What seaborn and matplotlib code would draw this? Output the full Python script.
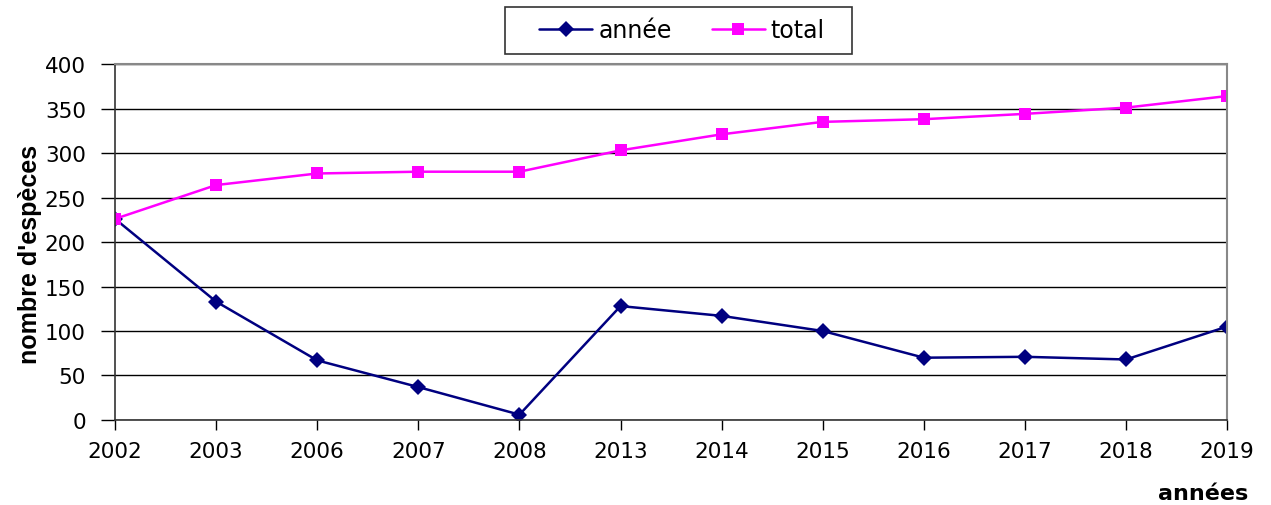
import pandas as pd
import seaborn as sns
import matplotlib.pyplot as plt
from matplotlib.patches import Rectangle

annees = ['2002', '2003', '2006', '2007', '2008', '2013', '2014', '2015', '2016', '2017', '2018', '2019']
annee = [226, 133, 67, 37, 6, 128, 117, 100, 70, 71, 68, 105]
total = [226, 264, 277, 279, 279, 303, 321, 335, 338, 344, 351, 364]

df = pd.DataFrame({
    'pos': list(range(len(annees))) * 2,
    'valeur': annee + total,
    'serie': ['année'] * len(annees) + ['total'] * len(annees),
})

sns.set_style('white')
# DejaVu est plus large qu'Arial, comme le texte étiré de l'original
plt.rcParams['font.family'] = ['DejaVu Sans']
plt.rcParams['text.color'] = 'black'
plt.rcParams['xtick.color'] = 'black'
plt.rcParams['ytick.color'] = 'black'
plt.rcParams['axes.labelcolor'] = 'black'

W, H = 1271, 506
fig = plt.figure(figsize=(W / 100, H / 100), dpi=100)
ax = fig.add_axes([0.0905, 0.168, 0.875, 0.7035])

sns.lineplot(data=df, x='pos', y='valeur', hue='serie', style='serie',
             palette={'année': '#000080', 'total': '#FF00FF'},
             markers={'année': 'D', 'total': 's'}, dashes=False,
             markersize=8, markeredgewidth=0, linewidth=1.8, ax=ax)

ax.set_xlim(0, len(annees) - 1)
ax.set_ylim(0, 400)
ax.set_yticks(range(0, 401, 50))
ax.set_xticks(range(len(annees)))
ax.set_xticklabels(annees)
ax.yaxis.grid(True, color='black', linewidth=1)
ax.set_axisbelow(True)
ax.tick_params(axis='both', labelsize=15.5, width=1, direction='out', left=True, bottom=True)
ax.tick_params(axis='y', pad=11, length=10)
ax.tick_params(axis='x', pad=8, length=7)
for side in ['left', 'bottom']:
    ax.spines[side].set_color('#333333')
    ax.spines[side].set_linewidth(1.2)
for side in ['top', 'right']:
    ax.spines[side].set_color('#888888')
    ax.spines[side].set_linewidth(1.5)

ax.set_xlabel('')
ax.set_ylabel("nombre d'espèces", fontsize=18, fontweight='bold',
              family='Liberation Sans')
ax.yaxis.set_label_coords(-0.066, 0.469)
fig.text(1248 / W, 1 - 500 / H, 'années', fontsize=16, fontweight='bold',
         ha='right', va='baseline')

handles, labels = ax.get_legend_handles_labels()
ax.legend(handles, labels, loc='center', bbox_to_anchor=(682 / W, 1 - 31 / H),
          bbox_transform=fig.transFigure, ncol=2, fontsize=17, frameon=False,
          handlelength=2.25, handletextpad=0.25, columnspacing=1.7, borderpad=0.3)
fig.patches.append(Rectangle((505 / W, 1 - 55 / H), 347 / W, 47 / H,
                             transform=fig.transFigure, fill=False,
                             edgecolor='#333333', linewidth=1.2))

fig.savefig('out.png', dpi=100)
